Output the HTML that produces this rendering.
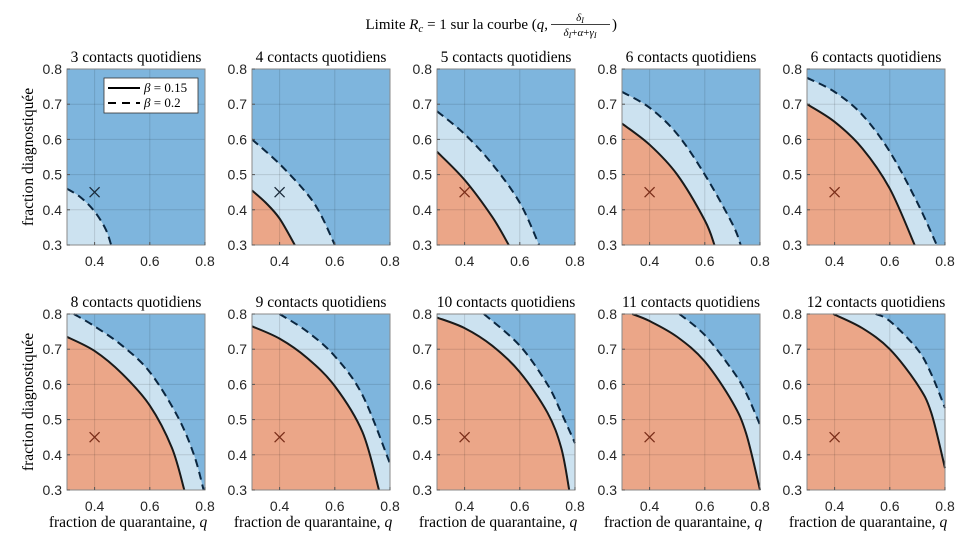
<!DOCTYPE html>
<html><head><meta charset="utf-8">
<style>
body{margin:0;background:#fff;}
svg{display:block;}
.tick{font-family:"Liberation Sans",sans-serif;font-size:14px;fill:#262626;}
.ser{font-family:"Liberation Serif",serif;fill:#000;}
</style></head>
<body>
<svg id="chart" width="980" height="555" viewBox="0 0 980 555" xmlns="http://www.w3.org/2000/svg">
<g>
<text class="ser" x="548" y="29" text-anchor="end" font-size="15">Limite <tspan font-style="italic">R</tspan><tspan font-style="italic" font-size="11" dy="3">c</tspan><tspan dy="-3"> = 1 sur la courbe (</tspan><tspan font-style="italic">q</tspan>,</text>
<text class="ser" x="580" y="21" text-anchor="middle" font-size="11" font-style="italic">δ<tspan font-size="8" dy="2">I</tspan></text>
<line x1="551" x2="610" y1="24.5" y2="24.5" stroke="#000" stroke-width="0.8"/>
<text class="ser" x="580" y="36" text-anchor="middle" font-size="11" font-style="italic">δ<tspan font-size="8" dy="2">I</tspan><tspan dy="-2" font-style="normal">+</tspan>α<tspan font-style="normal">+</tspan>γ<tspan font-size="8" dy="2">I</tspan></text>
<text class="ser" x="612" y="29" font-size="15">)</text>
</g>
<g id="panels"></g>
</svg>
<script>
const titles = ["3 contacts quotidiens","4 contacts quotidiens","5 contacts quotidiens","6 contacts quotidiens","6 contacts quotidiens","8 contacts quotidiens","9 contacts quotidiens","10 contacts quotidiens","11 contacts quotidiens","12 contacts quotidiens"];
const xTicks = [0.4,0.6,0.8];
const yTicks = [0.3,0.4,0.5,0.6,0.7,0.8];
const marker = [0.4,0.45];
// solid curves (beta = 0.15): [q, y] points
const solid = [
 [],
 [[0.3,0.455],[0.35,0.42],[0.4,0.375],[0.455,0.3]],
 [[0.3,0.565],[0.4,0.485],[0.5,0.38],[0.56,0.3]],
 [[0.3,0.645],[0.4,0.585],[0.5,0.5],[0.6,0.37],[0.635,0.3]],
 [[0.3,0.7],[0.4,0.65],[0.5,0.575],[0.6,0.46],[0.69,0.3]],
 [[0.3,0.735],[0.4,0.695],[0.5,0.63],[0.6,0.54],[0.68,0.42],[0.725,0.3]],
 [[0.3,0.765],[0.4,0.73],[0.5,0.675],[0.6,0.595],[0.7,0.465],[0.76,0.3]],
 [[0.3,0.79],[0.4,0.76],[0.5,0.71],[0.6,0.635],[0.7,0.52],[0.75,0.42],[0.779,0.3]],
 [[0.337,0.8],[0.4,0.78],[0.5,0.735],[0.6,0.665],[0.7,0.55],[0.75,0.46],[0.8,0.3]],
 [[0.395,0.8],[0.5,0.76],[0.6,0.7],[0.7,0.6],[0.75,0.52],[0.8,0.362]]
];
// dashed curves (beta = 0.2)
const dashed = [
 [[0.3,0.46],[0.35,0.435],[0.4,0.395],[0.44,0.345],[0.46,0.3]],
 [[0.3,0.6],[0.4,0.53],[0.5,0.445],[0.55,0.385],[0.6,0.3]],
 [[0.3,0.68],[0.4,0.615],[0.5,0.53],[0.6,0.42],[0.67,0.3]],
 [[0.3,0.735],[0.4,0.69],[0.5,0.615],[0.6,0.5],[0.7,0.36],[0.73,0.3]],
 [[0.3,0.775],[0.4,0.735],[0.5,0.67],[0.6,0.565],[0.7,0.42],[0.77,0.3]],
 [[0.325,0.8],[0.4,0.765],[0.5,0.71],[0.6,0.635],[0.7,0.51],[0.76,0.4],[0.795,0.3]],
 [[0.4,0.8],[0.5,0.75],[0.6,0.68],[0.7,0.57],[0.8,0.375]],
 [[0.47,0.8],[0.6,0.71],[0.7,0.6],[0.75,0.52],[0.8,0.433]],
 [[0.508,0.8],[0.6,0.74],[0.7,0.64],[0.75,0.575],[0.8,0.485]],
 [[0.549,0.8],[0.6,0.78],[0.7,0.7],[0.75,0.63],[0.8,0.533]]
];
const NS="http://www.w3.org/2000/svg";
const root=document.getElementById('panels');
function mk(tag,attrs,parent){const e=document.createElementNS(NS,tag);for(const k in attrs)e.setAttribute(k,attrs[k]);(parent||root).appendChild(e);return e;}
function smooth(pts){
  let d="M"+pts[0][0]+","+pts[0][1];
  for(let i=0;i<pts.length-1;i++){
    const p0=pts[Math.max(0,i-1)],p1=pts[i],p2=pts[i+1],p3=pts[Math.min(pts.length-1,i+2)];
    const c1=[p1[0]+(p2[0]-p0[0])/6,p1[1]+(p2[1]-p0[1])/6];
    const c2=[p2[0]-(p3[0]-p1[0])/6,p2[1]-(p3[1]-p1[1])/6];
    d+="C"+c1+" "+c2+" "+p2;
  }
  return d;
}
const W=138,H=176;
for(let i=0;i<10;i++){
  const col=i%5,row=Math.floor(i/5);
  const x0=67+col*185, y0=row?314:69;
  const sx=q=>x0+(q-0.3)/0.5*W, sy=v=>y0+H-(v-0.3)/0.5*H;
  const g=mk('g',{});
  
  
  const bg=mk('rect',{x:x0,y:y0,width:W,height:H,fill:'#7eb5dd'},g);
  
  
  const regions=[[dashed[i],'#cce2f0','region-beta-0-2'],[solid[i],'#eba688','region-beta-0-15']];
  regions.forEach(([c,fill,nm])=>{
    if(!c.length)return;
    const pts=c.map(p=>[sx(p[0]),sy(p[1])]);
    const last=c[c.length-1];
    const d=smooth(pts)+"L"+sx(last[0])+","+sy(0.3)+"L"+sx(0.3)+","+sy(0.3)+"L"+sx(0.3)+","+sy(c[0][1])+"Z";
    const p=mk('path',{d:d,fill:fill},g);
    
    
  });
  [0.4,0.6].forEach(q=>{const l=mk('line',{x1:sx(q),x2:sx(q),y1:y0,y2:y0+H,stroke:'#000','stroke-opacity':0.12,'stroke-width':1},g);});
  [0.4,0.5,0.6,0.7].forEach(v=>{const l=mk('line',{x1:x0,x2:x0+W,y1:sy(v),y2:sy(v),stroke:'#000','stroke-opacity':0.12,'stroke-width':1},g);});
  [[solid[i],null,'curve-beta-0-15'],[dashed[i],'8,5','curve-beta-0-2']].forEach(([c,da,nm])=>{
    if(!c.length)return;
    const a={d:smooth(c.map(p=>[sx(p[0]),sy(p[1])])),fill:'none',stroke:da?'#0b2740':'#1a1a1a','stroke-width':2};
    if(da)a['stroke-dasharray']=da;
    const p=mk('path',a,g);
    
    
  });
  const mx=sx(marker[0]),my=sy(marker[1]);
  const inOrange=solid[i].length&&i>=2;
  const mc=inOrange?'#7a2e1a':'#1a2a3a';
  const m=mk('path',{d:`M${mx-5},${my-5}L${mx+5},${my+5}M${mx-5},${my+5}L${mx+5},${my-5}`,stroke:mc,'stroke-width':1.3},g);
  
  
  const bx=mk('rect',{x:x0,y:y0,width:W,height:H,fill:'none',stroke:'#8a8a8a','stroke-width':1},g);
  
  
  xTicks.forEach(q=>{
    mk('line',{x1:sx(q),x2:sx(q),y1:y0+H,y2:y0+H-3,stroke:'#555'},g);
    const t=mk('text',{x:sx(q),y:y0+H+21,'text-anchor':'middle',class:'tick'},g);
    t.textContent=q.toFixed(1);
    
    
  });
  yTicks.forEach(v=>{
    mk('line',{x1:x0,x2:x0+3,y1:sy(v),y2:sy(v),stroke:'#555'},g);
    const t=mk('text',{x:x0-5,y:sy(v)+5,'text-anchor':'end',class:'tick'},g);
    t.textContent=v.toFixed(1);
    
    
  });
  const tt=mk('text',{x:x0+W/2,y:y0-7,'text-anchor':'middle',class:'ser','font-size':15.5},g);
  tt.textContent=titles[i];
  
  
  if(row===1){
    const xl=mk('text',{x:x0+W/2-8,y:527,'text-anchor':'middle',class:'ser','font-size':15.5},g);
    xl.innerHTML='fraction de quarantaine, <tspan font-style="italic">q</tspan>';
    
    
  }
  if(col===0){
    const cy=y0+H/2;
    const yl=mk('text',{x:0,y:0,transform:`translate(33,${cy}) rotate(-90)`,'text-anchor':'middle',class:'ser','font-size':15.5},g);
    yl.textContent='fraction diagnostiquée';
    
    
  }
  if(i===0){
    const lg=mk('g',{},g);
    
    
    mk('rect',{x:104,y:78,width:94,height:35,fill:'#fff',stroke:'#333','stroke-width':0.8},lg);
    mk('line',{x1:108,x2:140,y1:88,y2:88,stroke:'#000','stroke-width':2},lg);
    mk('line',{x1:108,x2:140,y1:103,y2:103,stroke:'#000','stroke-width':2,'stroke-dasharray':'8,6'},lg);
    const l1=mk('text',{x:144,y:92,class:'ser','font-size':13},lg);
    l1.innerHTML='<tspan font-style="italic">β</tspan> = 0.15';
    
    
    const l2=mk('text',{x:144,y:107,class:'ser','font-size':13},lg);
    l2.innerHTML='<tspan font-style="italic">β</tspan> = 0.2';
    
    
  }
}
</script>
</body></html>
